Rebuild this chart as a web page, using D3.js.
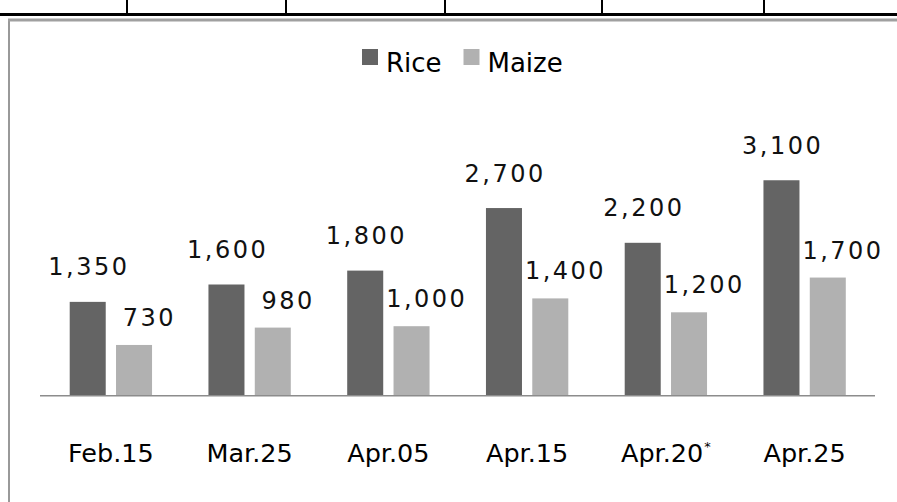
<!DOCTYPE html>
<html>
<head>
<meta charset="utf-8">
<script src="https://cdn.jsdelivr.net/npm/d3@7"></script>
<style>
  html, body { margin: 0; padding: 0; background: #fff; }
  svg { display: block; }
</style>
</head>
<body>
<svg id="chart" width="897" height="502"></svg>
<script>
// ---- data ----
const categories = ["Feb.15", "Mar.25", "Apr.05", "Apr.15", "Apr.20*", "Apr.25"];
const seriesNames = ["Rice", "Maize"];
const riceValues = [1350, 1600, 1800, 2700, 2200, 3100];
const maizeValues = [730, 980, 1000, 1400, 1200, 1700];
const seriesColors = ["#646464", "#b1b1b1"];

const rows = categories.map((c, i) => ({ category: c, Rice: riceValues[i], Maize: maizeValues[i] }));

const svg = d3.select("#chart");
const fmt = d3.format(",");

// ---- decorative table border above the chart ----
svg.append("line").attr("x1", 0).attr("x2", 897).attr("y1", 14.5).attr("y2", 14.5)
  .attr("stroke", "#000").attr("stroke-width", 3);
[127, 286, 445, 602, 764].forEach(x => {
  svg.append("line").attr("x1", x).attr("x2", x).attr("y1", 0).attr("y2", 14)
    .attr("stroke", "#000").attr("stroke-width", 2);
});

// ---- chart frame ----
svg.append("rect").attr("x", 9).attr("y", 20).attr("width", 1000).attr("height", 600)
  .attr("fill", "#fff").attr("stroke", "#999").attr("stroke-width", 2);
svg.append("line").attr("x1", 8).attr("x2", 897).attr("y1", 20).attr("y2", 20)
  .attr("stroke", "#a0a0a0").attr("stroke-width", 3);

// ---- scales ----
const x0 = d3.scaleBand().domain(categories).range([41.5, 874]).paddingInner(0).paddingOuter(0);
const x1 = d3.scaleBand().domain(seriesNames).range([0, x0.bandwidth()])
  .paddingInner(0.2225).paddingOuter(0.609);
const y = d3.scaleLinear().domain([0, 3500]).range([395.7, 152.45]);
const color = d3.scaleOrdinal().domain(seriesNames).range(seriesColors);

// ---- bars ----
const groups = svg.append("g").selectAll("g").data(rows).join("g")
  .attr("transform", d => `translate(${x0(d.category)},0)`);

groups.selectAll("rect").data(d => seriesNames.map(k => ({ key: k, value: d[k] })))
  .join("rect")
  .attr("x", d => x1(d.key))
  .attr("y", d => y(d.value))
  .attr("width", x1.bandwidth())
  .attr("height", d => y(0) - y(d.value))
  .attr("fill", d => color(d.key));

// ---- value labels ----
groups.selectAll("text.val").data(d => seriesNames.map(k => ({ key: k, value: d[k] })))
  .join("text")
  .attr("class", "val")
  .attr("x", d => x1(d.key) + x1.bandwidth() / 2 + (d.key === "Maize" ? 14 : 0) + 1.25)
  .attr("y", d => y(d.value) - (d.key === "Rice" ? 26.5 : 19))
  .attr("text-anchor", "middle")
  .attr("font-family", "DejaVu Sans, sans-serif")
  .attr("font-size", 24)
  .attr("letter-spacing", "2.5px")
  .attr("fill", "#111")
  .text(d => fmt(d.value));

// ---- x axis ----
const axis = svg.append("g").attr("transform", `translate(0,${y(0)})`)
  .call(d3.axisBottom(x0).tickSize(0).tickSizeOuter(0).tickPadding(48.6));
axis.select(".domain").attr("stroke", "#8c8c8c").attr("stroke-width", 1.5)
  .attr("d", `M40,0H875`);
axis.selectAll(".tick text")
  .attr("font-family", "DejaVu Sans, sans-serif")
  .attr("font-size", 25.5)
  .attr("fill", "#000")
  .each(function (d) {
    const t = d3.select(this);
    if (d.endsWith("*")) {
      t.text(d.slice(0, -1));
      t.append("tspan").attr("font-size", 13).attr("dy", "-0.9em").attr("dx", "1").text("*");
    }
  });

// ---- legend ----
const legend = svg.append("g");
const legendX = [362, 463.5];
seriesNames.forEach((name, i) => {
  legend.append("rect").attr("x", legendX[i]).attr("y", 49).attr("width", 16).attr("height", 16)
    .attr("fill", color(name));
  legend.append("text").attr("x", legendX[i] + 24).attr("y", 72)
    .attr("font-family", "DejaVu Sans, sans-serif").attr("font-size", 26).attr("fill", "#000")
    .text(name);
});
</script>
</body>
</html>
